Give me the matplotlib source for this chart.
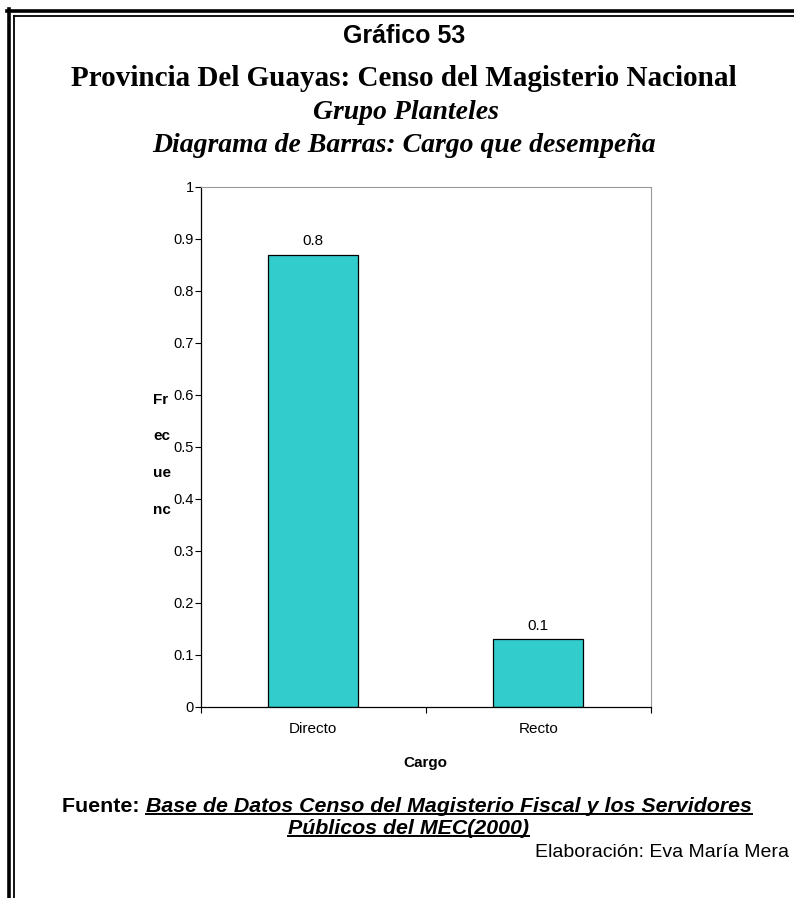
import matplotlib.pyplot as plt
from matplotlib.lines import Line2D

# data
cargos = ['Directo', 'Recto']
frecuencia = [0.87, 0.13]
etiquetas = ['0.8', '0.1']
yticks = [0, 0.1, 0.2, 0.3, 0.4, 0.5, 0.6, 0.7, 0.8, 0.9, 1]

W, H = 794, 898
fig = plt.figure(figsize=(W / 100, H / 100), dpi=100)
fig.patch.set_facecolor('white')

def fx(px):
    return px / W

def fy(py):
    return 1 - py / H

# double frame, left and top only
fig.add_artist(Line2D([fx(8.5), fx(8.5)], [0, fy(9)], color='black', lw=2.6))
fig.add_artist(Line2D([fx(7), 1], [fy(11), fy(11)], color='black', lw=2.6))
fig.add_artist(Line2D([fx(14), fx(14)], [0, fy(16)], color='black', lw=1.3))
fig.add_artist(Line2D([fx(14), 1], [fy(16), fy(16)], color='black', lw=1.3))

# titles
cx = fx(404)
fig.text(cx, fy(43), 'Gráfico 53', ha='center', va='baseline',
         fontsize=18, fontweight='bold', family='Liberation Sans')
fig.text(cx, fy(86), 'Provincia Del Guayas: Censo del Magisterio Nacional',
         ha='center', va='baseline', fontsize=21, fontweight='bold', family='Liberation Serif')
fig.text(fx(406), fy(119), 'Grupo Planteles', ha='center', va='baseline',
         fontsize=20, fontweight='bold', style='italic', family='Liberation Serif')
fig.text(cx, fy(152), 'Diagrama de Barras: Cargo que desempeña', ha='center', va='baseline',
         fontsize=20, fontweight='bold', style='italic', family='Liberation Serif')

# bar chart
ax = fig.add_axes([fx(200.5), fy(707), fx(651) - fx(200.5), fy(187) - fy(707)])
x = [0.5, 1.5]
bars = ax.bar(x, frecuencia, width=0.4, color='#33CCCC', edgecolor='black', linewidth=0.9)
for xi, v, t in zip(x, frecuencia, etiquetas):
    ax.text(xi, v + 0.013, t, ha='center', va='bottom', fontsize=11, family='Liberation Sans')

ax.set_xlim(0, 2)
ax.set_ylim(0, 1)
ax.set_yticks(yticks)
ax.set_yticklabels([f'{v:g}' for v in yticks], fontsize=10.5, family='Liberation Sans')
ax.set_xticks([0, 1, 2])
ax.set_xticklabels([])
ax.set_xticks(x, minor=True)
ax.set_xticklabels(cargos, minor=True, fontsize=11, family='Liberation Sans')
ax.tick_params(axis='x', which='minor', length=0, pad=11)
ax.tick_params(axis='x', which='major', length=4, width=0.8, direction='out')
ax.tick_params(axis='y', length=4, width=0.8, pad=1)
for s in ['top', 'right']:
    ax.spines[s].set_color('#999999')
    ax.spines[s].set_linewidth(0.8)
for s in ['left', 'bottom']:
    ax.spines[s].set_linewidth(0.9)

ax.set_xlabel('Cargo', fontsize=11, fontweight='bold', family='Liberation Sans', labelpad=14)

# broken y label
for i, part in enumerate(['Fr', 'ec', 'ue', 'nc']):
    fig.text(fx(153), fy(400 + 36.5 * i), part, ha='left', va='center',
             fontsize=11, fontweight='bold', family='Liberation Sans')

# source with underline
fig.canvas.draw()
r = fig.canvas.get_renderer()

def underline(t):
    bb = t.get_window_extent(renderer=r)
    y = bb.y0 + 2
    fig.add_artist(Line2D([bb.x0 / W, bb.x1 / W], [y / H, y / H], color='black', lw=1.4))

f_kw = dict(fontsize=15.4, fontweight='bold', family='Liberation Sans', va='baseline')
t1 = fig.text(0, 0, 'Fuente: ', **f_kw)
t2 = fig.text(0, 0, 'Base de Datos Censo del Magisterio Fiscal y los Servidores', style='italic', **f_kw)
w1 = t1.get_window_extent(renderer=r).width
w2 = t2.get_window_extent(renderer=r).width
x0 = 407 - (w1 + w2) / 2
t1.set_position((fx(x0), fy(812)))
t2.set_position((fx(x0 + w1), fy(812)))
t3 = fig.text(fx(408), fy(834), 'Públicos del MEC(2000)', ha='center', style='italic', **f_kw)
fig.canvas.draw()
underline(t2)
underline(t3)

fig.text(fx(789), fy(857), 'Elaboración: Eva María Mera', ha='right', va='baseline',
         fontsize=14, family='Liberation Sans')

fig.savefig('out.png', dpi=100)
